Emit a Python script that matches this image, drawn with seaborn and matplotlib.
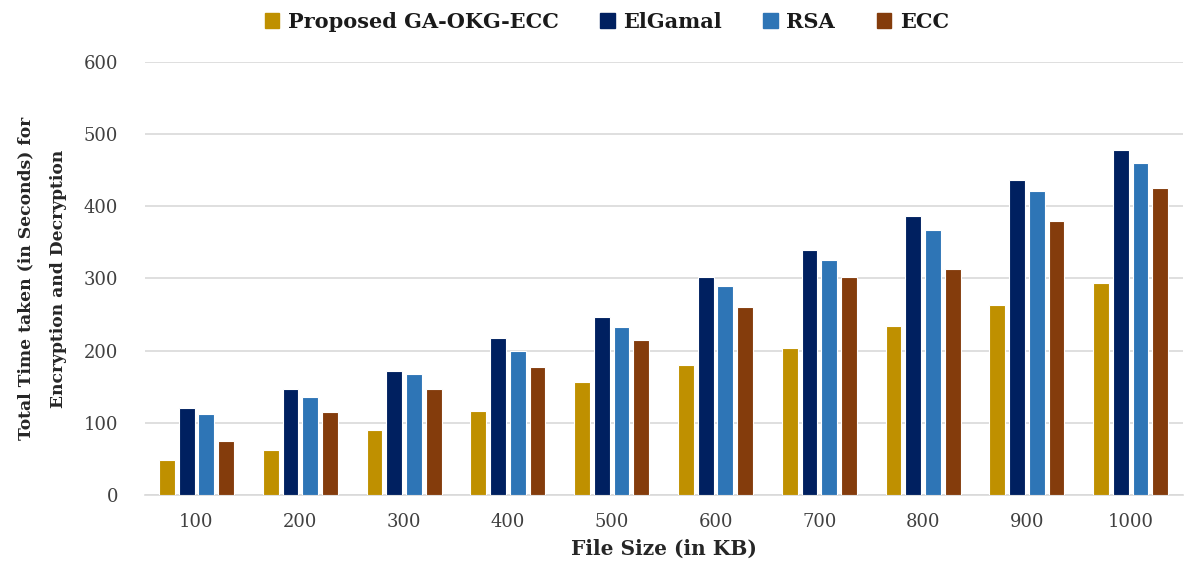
import pandas as pd
import numpy as np
import matplotlib
matplotlib.use("Agg")
import matplotlib.pyplot as plt
import seaborn as sns

# values
file_sizes = ["100", "200", "300", "400", "500", "600", "700", "800", "900", "1000"]
proposed = [48, 62, 90, 116, 156, 180, 204, 234, 263, 293]
elgamal = [121, 147, 172, 217, 246, 302, 340, 387, 436, 478]
rsa = [112, 135, 167, 200, 232, 289, 325, 367, 421, 460]
ecc = [75, 115, 147, 177, 214, 260, 302, 313, 380, 426]

methods = ["Proposed GA-OKG-ECC", "ElGamal", "RSA", "ECC"]
colors = ["#BF9000", "#002060", "#2E75B6", "#843C0C"]

df = pd.DataFrame({"size": file_sizes, "Proposed GA-OKG-ECC": proposed,
                   "ElGamal": elgamal, "RSA": rsa, "ECC": ecc})
df_long = df.melt(id_vars="size", var_name="method", value_name="time")

sns.set_style("white")
plt.rcParams['font.family'] = ['DejaVu Serif']

fig = plt.figure(figsize=(11.85, 5.70), dpi=100)
ax = fig.add_axes([0.122, 0.132, 0.876, 0.759])

sns.barplot(data=df_long, x="size", y="time", hue="method", hue_order=methods,
            palette=colors, saturation=1, width=0.76, gap=0.2, edgecolor="white",
            linewidth=0.8, errorbar=None, ax=ax, zorder=3)

ax.set_ylim(0, 600)
ax.set_yticks(np.arange(0, 601, 100))
ax.yaxis.grid(True, color="#d9d9d9", linewidth=1.2, zorder=0)
ax.set_axisbelow(True)
for s in ["top", "right", "left"]:
    ax.spines[s].set_visible(False)
ax.spines["bottom"].set_color("#d9d9d9")
ax.spines["bottom"].set_linewidth(1.2)
ax.tick_params(axis="both", length=0, labelsize=13, colors="#404040")
ax.tick_params(axis="y", pad=19)
ax.tick_params(axis="x", pad=13)
ax.set_xlim(-0.5, 9.5)

ax.set_xlabel("File Size (in KB)", fontsize=14.5, fontweight="bold", color="#262626", labelpad=6)
ax.set_ylabel("Total Time taken (in Seconds) for\nEncryption and Decryption", fontsize=12.3,
              fontweight="bold", color="#262626", labelpad=12, linespacing=2.2)

ax.legend_.remove()
handles = [plt.Rectangle((0, 0), 1, 1, color=c) for c in colors]
leg = fig.legend(handles, methods, loc="center", bbox_to_anchor=(0.512, 0.962), ncol=4,
                 frameon=False, fontsize=15, handlelength=0.7, handleheight=0.7,
                 handletextpad=0.4, columnspacing=2.0)
for t in leg.get_texts():
    t.set_fontweight("bold")
    t.set_color("#1a1a1a")

fig.savefig("out.png", dpi=100, facecolor="white")
